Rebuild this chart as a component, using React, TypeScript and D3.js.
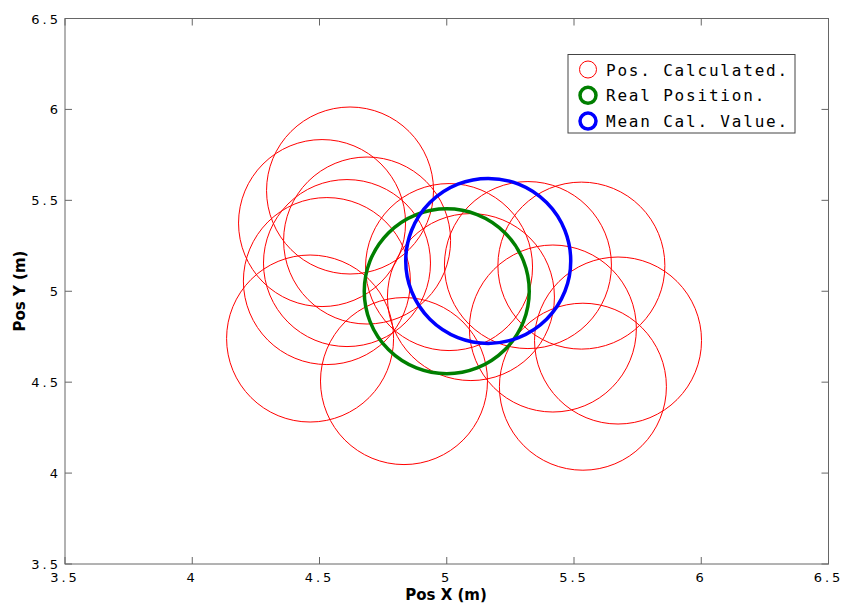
import React from "react";
import * as d3 from "d3";

const calcX = [4.62, 4.51, 4.687, 4.608, 4.529, 4.463, 4.832, 5.009, 5.095, 5.529, 5.673, 5.535, 5.417, 5.319];
const calcY = [5.554, 5.375, 5.279, 5.155, 5.056, 4.74, 4.506, 5.133, 4.968, 5.141, 4.729, 4.475, 4.795, 5.144];
const realPos = [5.0, 5.0];
const meanPos = [5.163, 5.167];
const xTicks = [3.5, 4, 4.5, 5, 5.5, 6, 6.5];
const yTicks = [3.5, 4, 4.5, 5, 5.5, 6, 6.5];
const legendLabels = ["Pos. Calculated.", "Real Position.", "Mean Cal. Value."];
const legendColors = ["#ff0000", "#007f00", "#0000ff"];

const W = 842, H = 606;
const L = 65, R = 828.5, T = 18.5, B = 564;

export default function App() {
  const x = d3.scaleLinear().domain([3.5, 6.5]).range([L, R]);
  const y = d3.scaleLinear().domain([3.5, 6.5]).range([B, T]);
  const axisColor = "#666";
  const tickLen = 7;
  const fmt = (v: number) => (Number.isInteger(v) ? String(v) : String(v));
  return (
    <svg width={W} height={H} style={{ position: "absolute", left: 0, top: 0, background: "#fff" }}>
      <rect x={0} y={0} width={W} height={H} fill="#fff" />
      <defs>
        <clipPath id="plot">
          <rect x={L} y={T} width={R - L} height={B - T} />
        </clipPath>
      </defs>
      {/* data */}
      <g clipPath="url(#plot)">
        {calcX.map((v, i) => (
          <circle key={i} cx={x(v)} cy={y(calcY[i])} r={83.5} fill="none" stroke="#ff0000" strokeWidth={1} />
        ))}
        <circle cx={x(realPos[0])} cy={y(realPos[1])} r={82.5} fill="none" stroke="#007f00" strokeWidth={3.5} />
        <circle cx={x(meanPos[0])} cy={y(meanPos[1])} r={82.5} fill="none" stroke="#0000ff" strokeWidth={3.5} />
      </g>
      {/* box */}
      <rect x={L} y={T} width={R - L} height={B - T} fill="none" stroke={axisColor} strokeWidth={1} />
      {xTicks.map((t, i) => (
        <g key={"xt" + i}>
          <line x1={x(t)} x2={x(t)} y1={B} y2={B - tickLen} stroke={axisColor} />
          <line x1={x(t)} x2={x(t)} y1={T} y2={T + tickLen} stroke={axisColor} />
          <text x={x(t)} y={582} textAnchor="middle" fontFamily="DejaVu Sans" fontSize={13} letterSpacing={3} fill="#000">
            {fmt(t)}
          </text>
        </g>
      ))}
      {yTicks.map((t, i) => (
        <g key={"yt" + i}>
          <line x1={L} x2={L + tickLen} y1={y(t)} y2={y(t)} stroke={axisColor} />
          <line x1={R} x2={R - tickLen} y1={y(t)} y2={y(t)} stroke={axisColor} />
          <text x={61} y={y(t) + 5} textAnchor="end" fontFamily="DejaVu Sans" fontSize={13} letterSpacing={3} fill="#000">
            {fmt(t)}
          </text>
        </g>
      ))}
      <text x={446} y={600} textAnchor="middle" fontFamily="DejaVu Sans" fontWeight="bold" fontSize={15} fill="#000">
        Pos X (m)
      </text>
      <text transform={`translate(25,291) rotate(-90)`} textAnchor="middle" fontFamily="DejaVu Sans" fontWeight="bold" fontSize={15} fill="#000">
        Pos Y (m)
      </text>
      {/* legend */}
      <rect x={568} y={54.5} width={227} height={78.5} fill="#fff" stroke="#444" strokeWidth={1} />
      {legendLabels.map((lab, i) => {
        const cy = 69.5 + i * 25.8;
        return (
          <g key={"lg" + i}>
            <circle cx={588} cy={cy} r={i === 0 ? 8.5 : 8} fill="none" stroke={legendColors[i]} strokeWidth={i === 0 ? 1 : 3.5} />
            <text x={606} y={cy + 6} fontFamily="DejaVu Sans Mono" fontSize={16} letterSpacing={1.8} fill="#000">
              {lab}
            </text>
          </g>
        );
      })}
    </svg>
  );
}
